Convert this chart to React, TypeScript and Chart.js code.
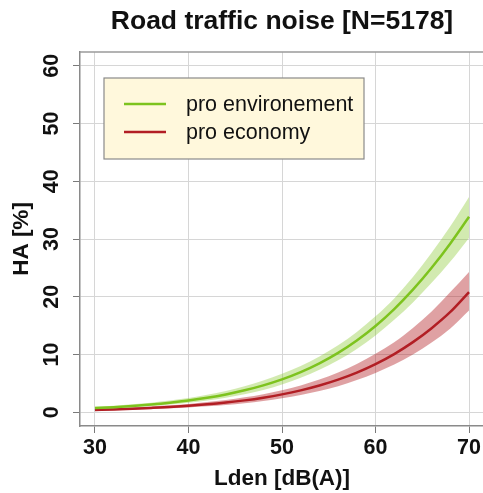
import React, { useEffect, useRef } from "react";
import { Chart, registerables } from "chart.js";

Chart.register(...registerables);

const lden = [30, 32, 34, 36, 38, 40, 42, 44, 46, 48, 50, 52, 54, 56, 58, 60, 62, 64, 66, 68, 70];
const greenFit = [0.7, 0.87, 1.08, 1.33, 1.64, 2.02, 2.49, 3.07, 3.78, 4.64, 5.68, 6.94, 8.46, 10.27, 12.41, 14.93, 17.86, 21.22, 25.01, 29.23, 33.85];
const greenLo = [0.52, 0.66, 0.84, 1.05, 1.31, 1.62, 2.02, 2.5, 3.1, 3.85, 4.8, 5.95, 7.35, 9.0, 10.95, 13.3, 16.0, 19.0, 22.4, 26.1, 30.2];
const greenHi = [0.92, 1.12, 1.36, 1.65, 2.0, 2.45, 3.0, 3.68, 4.5, 5.5, 6.65, 8.0, 9.65, 11.6, 13.9, 16.6, 19.7, 23.4, 27.6, 32.2, 37.3];
const redFit = [0.39, 0.48, 0.59, 0.73, 0.89, 1.1, 1.35, 1.66, 2.04, 2.51, 3.08, 3.77, 4.61, 5.63, 6.85, 8.32, 10.06, 12.13, 14.55, 17.36, 20.8];
const redLo = [0.27, 0.34, 0.42, 0.53, 0.66, 0.82, 1.01, 1.26, 1.56, 1.94, 2.4, 2.97, 3.67, 4.5, 5.55, 6.8, 8.25, 10.0, 12.05, 14.5, 17.6];
const redHi = [0.55, 0.66, 0.8, 0.98, 1.18, 1.43, 1.74, 2.1, 2.56, 3.12, 3.8, 4.63, 5.65, 6.88, 8.35, 10.1, 12.1, 14.6, 17.45, 20.8, 24.3];

const seriesNames = ["pro environement", "pro economy"];
const xTicks = [30, 40, 50, 60, 70];
const yTicks = [0, 10, 20, 30, 40, 50, 60];

const FONT = "'Liberation Sans', Arial, sans-serif";
const GREEN = "rgb(125,195,30)";
const RED = "rgb(178,30,36)";
const GREEN_BAND = "rgba(125,195,30,0.35)";
const RED_BAND = "rgba(178,30,36,0.42)";

const pts = (ys: number[]) => lden.map((x, i) => ({ x, y: ys[i] }));

const boxPlugin = {
  id: "boxAndLabels",
  beforeDatasetsDraw(chart: any) {
    const { ctx, chartArea } = chart;
    ctx.save();
    ctx.strokeStyle = "#9a9a9a";
    ctx.lineWidth = 1.5;
    ctx.beginPath();
    ctx.moveTo(chartArea.left, chartArea.top);
    ctx.lineTo(chartArea.right + 5, chartArea.top);
    ctx.stroke();
    ctx.restore();
  },
  afterDraw(chart: any) {
    const { ctx, chartArea } = chart;
    const yScale = chart.scales.y;
    ctx.save();
    ctx.fillStyle = "#111";
    ctx.font = `bold 21.5px ${FONT}`;
    ctx.textAlign = "center";
    ctx.textBaseline = "middle";
    yTicks.forEach((v) => {
      const py = yScale.getPixelForValue(v);
      ctx.save();
      ctx.translate(52, py);
      ctx.rotate(-Math.PI / 2);
      ctx.fillText(String(v), 0, 0);
      ctx.restore();
    });
    ctx.restore();

    const lx = chartArea.left + 24;
    const ly = chartArea.top + 26;
    const lw = 260;
    const lh = 81;
    ctx.save();
    ctx.fillStyle = "#FFF8DC";
    ctx.fillRect(lx, ly, lw, lh);
    ctx.strokeStyle = "#8a8a8a";
    ctx.lineWidth = 1.2;
    ctx.strokeRect(lx, ly, lw, lh);
    const colors = [GREEN, RED];
    ctx.font = `21.5px ${FONT}`;
    ctx.textAlign = "left";
    ctx.textBaseline = "middle";
    seriesNames.forEach((name, i) => {
      const yy = ly + 26 + i * 28;
      ctx.strokeStyle = colors[i];
      ctx.lineWidth = 2.5;
      ctx.beginPath();
      ctx.moveTo(lx + 20, yy);
      ctx.lineTo(lx + 62, yy);
      ctx.stroke();
      ctx.fillStyle = "#111";
      ctx.fillText(name, lx + 82, yy + 1);
    });
    ctx.restore();
  },
};

export default function App() {
  const ref = useRef<HTMLCanvasElement | null>(null);

  useEffect(() => {
    if (!ref.current) return;
    const lineBase = {
      pointRadius: 0,
      borderWidth: 2.5,
      cubicInterpolationMode: "monotone" as const,
      fill: false,
    };
    const chart = new Chart(ref.current, {
      type: "line",
      data: {
        datasets: [
          { ...lineBase, label: seriesNames[0], data: pts(greenFit), borderColor: GREEN },
          { ...lineBase, label: seriesNames[1], data: pts(redFit), borderColor: RED },
          { ...lineBase, label: "g-lo", data: pts(greenLo), borderWidth: 0, borderColor: "transparent" },
          { ...lineBase, label: "g-hi", data: pts(greenHi), borderWidth: 0, borderColor: "transparent", fill: 2, backgroundColor: GREEN_BAND },
          { ...lineBase, label: "r-lo", data: pts(redLo), borderWidth: 0, borderColor: "transparent" },
          { ...lineBase, label: "r-hi", data: pts(redHi), borderWidth: 0, borderColor: "transparent", fill: 4, backgroundColor: RED_BAND },
        ],
      },
      options: {
        responsive: false,
        animation: false,
        devicePixelRatio: 1,
        layout: { padding: { left: 0, right: 36, top: 0, bottom: 0 } },
        plugins: {
          legend: { display: false },
          tooltip: { enabled: false },
          title: {
            display: true,
            text: "Road traffic noise [N=5178]",
            fullSize: false,
            color: "#111",
            font: { family: FONT, size: 26.5, weight: "bold", lineHeight: 1.2 },
            padding: { top: 6, bottom: 14.2 },
          },
        },
        scales: {
          x: {
            type: "linear",
            min: 28.4,
            max: 71.6,
            afterFit: (s: any) => {
              s.height = 67;
            },
            afterBuildTicks: (s: any) => {
              s.ticks = xTicks.map((v) => ({ value: v }));
            },
            grid: { color: "#d6d6d6", lineWidth: 1, tickLength: 7, tickColor: "#7a7a7a", drawTicks: true },
            border: { color: "#8a8a8a", width: 1.5 },
            ticks: {
              color: "#111",
              padding: 2,
              font: { family: FONT, size: 21.5, weight: "bold" },
              maxRotation: 0,
              autoSkip: false,
            },
            title: {
              display: true,
              text: "Lden [dB(A)]",
              color: "#111",
              font: { family: FONT, size: 22.5, weight: "bold", lineHeight: 1.2 },
              padding: { top: 0, bottom: 1 },
            },
          },
          y: {
            type: "linear",
            min: -2.4,
            max: 62.4,
            afterFit: (s: any) => {
              s.width = 80;
            },
            afterBuildTicks: (s: any) => {
              s.ticks = yTicks.map((v) => ({ value: v }));
            },
            grid: { color: "#d6d6d6", lineWidth: 1, tickLength: 7, tickColor: "#7a7a7a", drawTicks: true },
            border: { color: "#8a8a8a", width: 1.5 },
            ticks: { display: false },
            title: {
              display: true,
              text: "HA [%]",
              color: "#111",
              font: { family: FONT, size: 22.5, weight: "bold", lineHeight: 1.2 },
              padding: { top: 8.5, bottom: 0 },
            },
          },
        },
      },
      plugins: [boxPlugin],
    });
    return () => chart.destroy();
  }, []);

  return (
    <div style={{ position: "fixed", left: 0, top: 0, width: 483, height: 493, overflow: "hidden", background: "#fff" }}>
      <canvas ref={ref} width={520} height={493} style={{ display: "block", width: 520, height: 493 }} />
    </div>
  );
}
